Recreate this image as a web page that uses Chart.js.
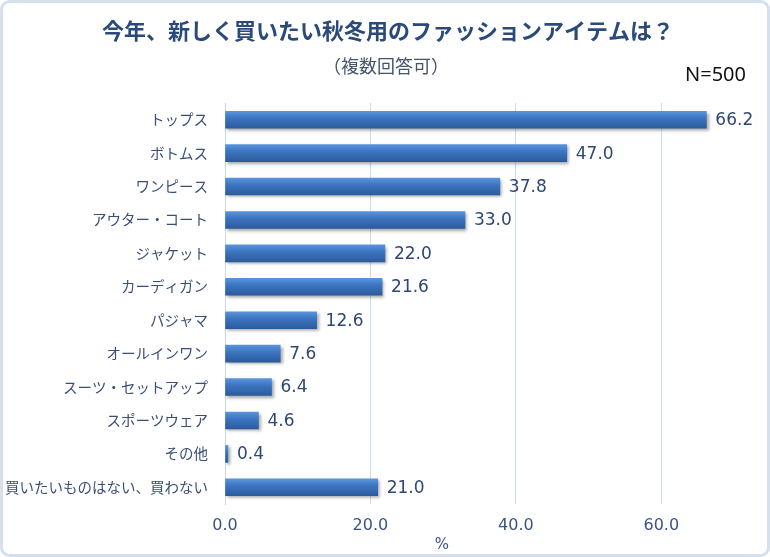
<!DOCTYPE html>
<html>
<head>
<meta charset="utf-8">
<script src="https://cdn.jsdelivr.net/npm/chart.js@4/dist/chart.umd.min.js"></script>
<style>
  html, body { margin: 0; padding: 0; background: #fff; }
  #wrap { width: 770px; height: 557px; position: relative; }
</style>
</head>
<body>
<div id="wrap"><canvas id="chart" width="770" height="557"></canvas></div>
<script>
const categories = ['トップス', 'ボトムス', 'ワンピース', 'アウター・コート', 'ジャケット', 'カーディガン', 'パジャマ', 'オールインワン', 'スーツ・セットアップ', 'スポーツウェア', 'その他', '買いたいものはない、買わない'];
const values = [66.2, 47.0, 37.8, 33.0, 22.0, 21.6, 12.6, 7.6, 6.4, 4.6, 0.4, 21.0];
const xTicks = [0, 20, 40, 60];

const titleText = '今年、新しく買いたい秋冬用のファッションアイテムは？';
const subText = '（複数回答可）';
const nText = 'N=500';

const JP = '"Noto Sans CJK JP", "Noto Sans", sans-serif';
const NUM = '"DejaVu Sans", Verdana, sans-serif';
const BAR_H = 17;

// bar gradient per bar, top light -> bottom dark
function barFill(ctx) {
    const chart = ctx.chart;
    const y = chart.scales.y;
    if (!y || ctx.type !== 'data') return '#3A72BD';
    const c = y.getPixelForValue(ctx.dataIndex);
    if (!isFinite(c)) return '#3A72BD';
    const g = chart.ctx.createLinearGradient(0, c - BAR_H / 2, 0, c + BAR_H / 2);
    g.addColorStop(0, '#5A94DC');
    g.addColorStop(0.4, '#3C75C1');
    g.addColorStop(1, '#2C5B9C');
    return g;
}

const decor = {
    id: 'decor',
    beforeDraw(chart) {
        const c = chart.ctx;
        c.save();
        c.fillStyle = '#fff';
        c.fillRect(0, 0, chart.width, chart.height);
        c.strokeStyle = '#D6E0ED';
        c.lineWidth = 3;
        c.beginPath();
        c.roundRect(1.5, 1.5, chart.width - 3, chart.height - 3, 8);
        c.stroke();

        c.textAlign = 'center';
        c.textBaseline = 'middle';
        c.fillStyle = '#2A4A7A';
        c.font = 'bold 22px ' + JP;
        c.fillText(titleText, 388, 31);
        c.fillStyle = '#44546A';
        c.font = '18px ' + JP;
        c.fillText(subText, 386, 66);
        c.fillStyle = '#111';
        c.textAlign = 'right';
        c.font = '20px "Noto Sans", sans-serif';
        c.fillText(nText, 746, 75);
        c.restore();
    },
    beforeDatasetsDraw(chart) {
        const c = chart.ctx;
        c.save();
        c.shadowColor = 'rgba(0,0,0,0.35)';
        c.shadowBlur = 3;
        c.shadowOffsetX = 2;
        c.shadowOffsetY = 2;
    },
    afterDatasetsDraw(chart) {
        const c = chart.ctx;
        c.restore();
        c.save();
        c.font = '17px ' + NUM;
        c.fillStyle = '#2F4775';
        c.textAlign = 'left';
        c.textBaseline = 'middle';
        chart.getDatasetMeta(0).data.forEach((bar, i) => {
            c.fillText(values[i].toFixed(1), bar.x + 9, bar.y + 1);
        });
        c.fillStyle = '#3B5583';
        c.textAlign = 'center';
        c.font = '15px ' + NUM;
        c.fillText('%', 442, 545);
        c.restore();
    }
};

new Chart(document.getElementById('chart'), {
    type: 'bar',
    data: {
        labels: categories,
        datasets: [{
            data: values,
            backgroundColor: barFill,
            borderWidth: 0,
            barThickness: BAR_H
        }]
    },
    options: {
        indexAxis: 'y',
        responsive: false,
        animation: false,
        layout: { padding: { top: 103, right: 36, bottom: 0, left: 0 } },
        plugins: {
            legend: { display: false },
            tooltip: { enabled: false }
        },
        scales: {
            x: {
                min: 0,
                max: 70,
                afterBuildTicks: axis => { axis.ticks = xTicks.map(v => ({ value: v })); },
                afterFit: scale => { scale.height = 53; },
                grid: { color: '#CFDCEC', drawTicks: false },
                border: { display: false },
                ticks: {
                    padding: 12,
                    color: '#3B5583',
                    font: { family: NUM, size: 16 },
                    callback: v => Number(v).toFixed(1)
                }
            },
            y: {
                afterFit: scale => { scale.width = 225; },
                grid: { display: false, drawTicks: false },
                border: { display: true, color: '#C9D7EA' },
                ticks: {
                    padding: 17,
                    color: '#3A4F78',
                    font: { family: JP, size: 14.5 }
                }
            }
        }
    },
    plugins: [decor]
});
</script>
</body>
</html>
